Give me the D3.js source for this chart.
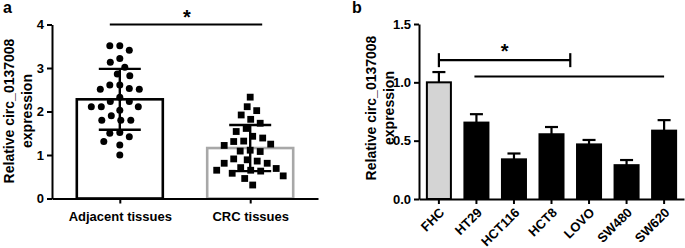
<!DOCTYPE html>
<html>
<head>
<meta charset="utf-8">
<script src="https://cdn.jsdelivr.net/npm/d3@7"></script>
<style>
  body { margin: 0; background: #fff; }
  svg { display: block; font-family: "Liberation Sans", Arial, sans-serif; font-weight: bold; }
</style>
</head>
<body>
<div id="chart"></div>
<script>
// ---- panel a data ----
const groupsA = ["Adjacent tissues", "CRC tissues"];
const adjacentVals = [3.51, 3.51, 3.41, 3.22, 3.13, 3.02, 2.86, 2.82, 2.61, 2.61, 2.53, 2.51, 2.51,
  2.33, 2.23, 2.23, 2.11, 2.11, 2.11, 2.03, 1.9, 1.8, 1.8, 1.8, 1.52, 1.5, 1.42, 1.31, 1.23, 1.0];
const crcVals = [2.33, 2.11, 2.02, 1.92, 1.82, 1.73, 1.61, 1.54, 1.43, 1.39, 1.32, 1.25, 1.22, 1.31,
  1.11, 1.08, 1.09, 0.89, 0.91, 0.86, 0.81, 0.81, 0.69, 0.65, 0.65, 0.63, 0.71, 0.52, 0.46, 0.58, 0.31];
const meanA = [2.28, 1.16];
const sdA = [0.7, 0.53];
const ticksA = [0, 1, 2, 3, 4];

// ---- panel b data ----
const cellLines = ["FHC", "HT29", "HCT116", "HCT8", "LOVO", "SW480", "SW620"];
const meanB = [1.0, 0.655, 0.34, 0.555, 0.468, 0.29, 0.586];
const errB = [0.088, 0.072, 0.05, 0.062, 0.038, 0.044, 0.09];
const ticksB = [0, 0.5, 1.0, 1.5];

const width = 685, height = 248;
const svg = d3.select("#chart").append("svg")
  .attr("width", width).attr("height", height);

function styleAxis(a) {
  a.select(".domain").attr("stroke-width", 2);
  a.selectAll(".tick line").attr("stroke-width", 2);
  a.selectAll("text").attr("font-size", 13).attr("font-family", "Liberation Sans, Arial, sans-serif")
    .attr("font-weight", "bold").attr("fill", "#000");
}

function yLabel(cx, cy) {
  [["Relative circ_0137008", 0], ["expression", 18]].forEach(([t, off]) => {
    svg.append("text")
      .attr("transform", `translate(${cx + off},${cy}) rotate(-90)`)
      .attr("text-anchor", "middle").attr("dy", "0.36em")
      .attr("font-size", 14).text(t);
  });
}

// ================= panel a =================
const yA = d3.scaleLinear().domain([0, 4]).range([198.5, 24.5]);
const xA = d3.scalePoint().domain(groupsA).range([52, 318]).padding(0.52);

svg.append("text").attr("x", 3).attr("y", 13).attr("font-size", 16).text("a");

// bars
const barW = 86;
svg.append("g").selectAll("rect").data(groupsA).join("rect")
  .attr("x", d => xA(d) - barW / 2)
  .attr("y", (d, i) => yA(meanA[i]))
  .attr("width", barW)
  .attr("height", (d, i) => yA(0) - yA(meanA[i]))
  .attr("fill", "#fff")
  .attr("stroke", (d, i) => i === 0 ? "#000" : "#a8a8a8")
  .attr("stroke-width", 2.6);

// beeswarm layout (computed from values)
function swarm(vals, cx, minDist) {
  const placed = [];
  const sorted = vals.slice().sort((a, b) => b - a);
  sorted.forEach(v => {
    const py = yA(v);
    let best = 0;
    for (let k = 0; k < 200; k++) {
      const off = (k % 2 === 0 ? 1 : -1) * Math.ceil(k / 2) * 0.5;
      const ok = placed.every(p => Math.hypot(p.x - (cx + off), p.y - py) >= minDist);
      if (ok) { best = off; break; }
    }
    placed.push({ x: cx + best, y: py, v: v });
  });
  return placed;
}

const ptsA = swarm(adjacentVals, xA(groupsA[0]), 10);
const ptsB = swarm(crcVals, xA(groupsA[1]), 10);

svg.append("g").selectAll("circle").data(ptsA).join("circle")
  .attr("cx", d => d.x).attr("cy", d => d.y).attr("r", 3.5).attr("fill", "#000");

const sq = 6.8;
svg.append("g").selectAll("rect").data(ptsB).join("rect")
  .attr("x", d => d.x - sq / 2).attr("y", d => d.y - sq / 2)
  .attr("width", sq).attr("height", sq).attr("fill", "#000");

// error bars (mean ± SD)
const errG = svg.append("g").attr("stroke", "#000").attr("stroke-width", 2.4);
groupsA.forEach((g, i) => {
  const cx = xA(g);
  errG.append("line").attr("x1", cx).attr("x2", cx)
    .attr("y1", yA(meanA[i] + sdA[i])).attr("y2", yA(meanA[i] - sdA[i]));
  [meanA[i] + sdA[i], meanA[i] - sdA[i]].forEach(v => {
    errG.append("line").attr("x1", cx - 21).attr("x2", cx + 21)
      .attr("y1", yA(v)).attr("y2", yA(v));
  });
});

// axes a
const axA = svg.append("g").attr("transform", `translate(52,0)`)
  .call(d3.axisLeft(yA).tickValues(ticksA).tickFormat(d3.format("d"))
    .tickSize(5).tickSizeOuter(0).tickPadding(3));
const axAx = svg.append("g").attr("transform", `translate(0,${yA(0)})`)
  .call(d3.axisBottom(xA).tickSize(5).tickSizeOuter(0).tickPadding(4));
styleAxis(axA);
styleAxis(axAx);
axAx.selectAll(".tick text").attr("dy", "1.05em");

// significance a
svg.append("line").attr("x1", xA(groupsA[0]) - 10).attr("x2", xA(groupsA[1]) + 12)
  .attr("y1", yA(4)).attr("y2", yA(4)).attr("stroke", "#000").attr("stroke-width", 2.2);
svg.append("text").attr("x", (xA(groupsA[0]) + xA(groupsA[1])) / 2 + 2).attr("y", 24)
  .attr("text-anchor", "middle").attr("font-size", 20).text("*");

yLabel(9, 111);

// ================= panel b =================
const yB = d3.scaleLinear().domain([0, 1.5]).range([199, 24]);
const xB = d3.scaleBand().domain(cellLines).range([419, 684]).paddingInner(0.36).paddingOuter(0.21);

svg.append("text").attr("x", 352).attr("y", 13).attr("font-size", 16).text("b");

// error bars (upper only) drawn before bars
const errGB = svg.append("g").attr("stroke", "#000").attr("stroke-width", 2.2);
cellLines.forEach((c, i) => {
  const cx = xB(c) + xB.bandwidth() / 2;
  errGB.append("line").attr("x1", cx).attr("x2", cx)
    .attr("y1", yB(meanB[i])).attr("y2", yB(meanB[i] + errB[i]));
  errGB.append("line").attr("x1", cx - 6.5).attr("x2", cx + 6.5)
    .attr("y1", yB(meanB[i] + errB[i])).attr("y2", yB(meanB[i] + errB[i]));
});

svg.append("g").selectAll("rect").data(cellLines).join("rect")
  .attr("x", d => xB(d))
  .attr("y", (d, i) => yB(meanB[i]))
  .attr("width", xB.bandwidth())
  .attr("height", (d, i) => yB(0) - yB(meanB[i]))
  .attr("fill", (d, i) => i === 0 ? "#d4d4d4" : "#000")
  .attr("stroke", "#000").attr("stroke-width", 2);

const axB = svg.append("g").attr("transform", `translate(419,0)`)
  .call(d3.axisLeft(yB).tickValues(ticksB).tickFormat(d3.format(".1f"))
    .tickSize(5).tickSizeOuter(0).tickPadding(3));
const axBx = svg.append("g").attr("transform", `translate(0,${yB(0)})`)
  .call(d3.axisBottom(xB).tickSize(5).tickSizeOuter(0));
styleAxis(axB);
styleAxis(axBx);
axBx.selectAll(".tick text")
  .attr("text-anchor", "end")
  .attr("y", 0)
  .attr("dy", "0.36em")
  .attr("transform", "translate(3,11) rotate(-45)");

// significance b
const cFHC = xB("FHC") + xB.bandwidth() / 2;
const cMid = (xB("HCT8") + xB("LOVO")) / 2 + xB.bandwidth() / 2;
const yBr = yB(1.19);
const sigB = svg.append("g").attr("stroke", "#000").attr("stroke-width", 2.2);
sigB.append("line").attr("x1", cFHC).attr("x2", cMid).attr("y1", yBr).attr("y2", yBr);
sigB.append("line").attr("x1", cFHC).attr("x2", cFHC).attr("y1", yBr - 7).attr("y2", yBr + 7);
sigB.append("line").attr("x1", cMid).attr("x2", cMid).attr("y1", yBr - 7).attr("y2", yBr + 7);
sigB.append("line").attr("x1", xB("HT29") + xB.bandwidth() / 2 - 2).attr("x2", xB("SW620") + xB.bandwidth() / 2)
  .attr("y1", yB(1.05)).attr("y2", yB(1.05));
svg.append("text").attr("x", (cFHC + cMid) / 2).attr("y", 58)
  .attr("text-anchor", "middle").attr("font-size", 20).text("*");

yLabel(371, 108);
</script>
</body>
</html>
